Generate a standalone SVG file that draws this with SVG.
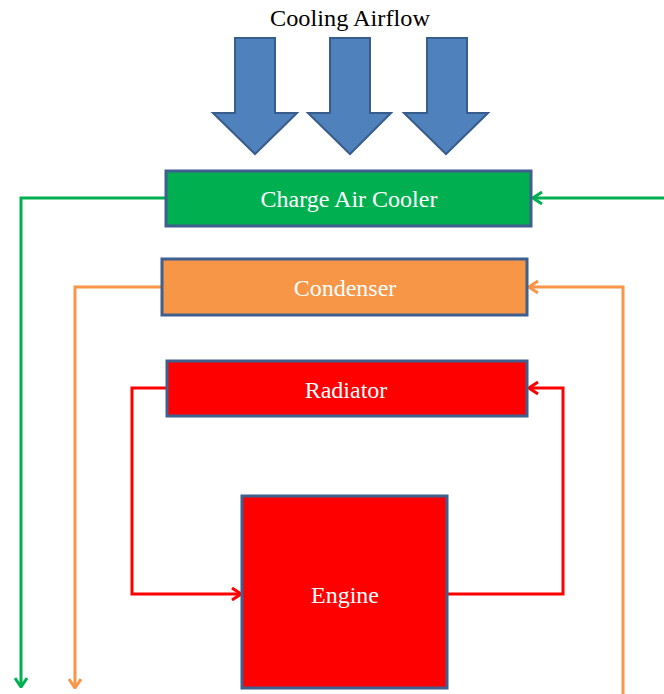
<svg xmlns="http://www.w3.org/2000/svg" width="664" height="694" viewBox="0 0 664 694">
<defs>
<style>
.box{stroke:#3F5F8F;stroke-width:3}
.lbl{fill:#fff;text-anchor:middle}
.title{fill:#000;text-anchor:middle}
.flow{fill:#4F81BD;stroke:#385D8A;stroke-width:2}
.ln{fill:none;stroke-width:3;stroke-linejoin:miter}
</style>
<marker id="ag" viewBox="0 0 14 14" refX="13" refY="7" markerWidth="14" markerHeight="14" markerUnits="userSpaceOnUse" orient="auto"><polyline points="4,1 13,7 4,13" fill="none" stroke="#00B050" stroke-width="3"/></marker>
<marker id="ao" viewBox="0 0 14 14" refX="13" refY="7" markerWidth="14" markerHeight="14" markerUnits="userSpaceOnUse" orient="auto"><polyline points="4,1 13,7 4,13" fill="none" stroke="#F79646" stroke-width="3"/></marker>
<marker id="ar" viewBox="0 0 14 14" refX="13" refY="7" markerWidth="14" markerHeight="14" markerUnits="userSpaceOnUse" orient="auto"><polyline points="4,1 13,7 4,13" fill="none" stroke="#FF0000" stroke-width="3"/></marker>
</defs>
<rect width="664" height="694" fill="#fff"/>
<g font-family="Liberation Serif, DejaVu Serif, serif" font-size="24">
<text class="title" x="350" y="26" textLength="160" lengthAdjust="spacingAndGlyphs">Cooling Airflow</text>
<g id="airflow">
<polygon class="flow" points="235,38 275,38 275,113 297,113 255,154 213,113 235,113"/>
<polygon class="flow" points="330,38 370,38 370,113 391,113 350,154 308,113 330,113"/>
<polygon class="flow" points="427,38 467,38 467,113 488,113 446,154 404,113 427,113"/>
</g>
<g id="connectors">
<polyline class="ln" stroke="#00B050" points="166,198 21,198 21,687" marker-end="url(#ag)"/>
<line class="ln" stroke="#00B050" x1="664" y1="198" x2="533" y2="198" marker-end="url(#ag)"/>
<polyline class="ln" stroke="#F79646" points="162,287 75,287 75,688" marker-end="url(#ao)"/>
<polyline class="ln" stroke="#F79646" points="623,694 623,287 529,287" marker-end="url(#ao)"/>
<polyline class="ln" stroke="#FF0000" points="167,388 132,388 132,594 241,594" marker-end="url(#ar)"/>
<polyline class="ln" stroke="#FF0000" points="447,594 563,594 563,388 529,388" marker-end="url(#ar)"/>
</g>
<g id="charge-air-cooler">
<rect class="box" x="166" y="171" width="365" height="55" fill="#00B050"/>
<text class="lbl" x="349" y="207">Charge Air Cooler</text>
</g>
<g id="condenser">
<rect class="box" x="162" y="259" width="365" height="56" fill="#F79646"/>
<text class="lbl" x="345" y="296">Condenser</text>
</g>
<g id="radiator">
<rect class="box" x="167" y="361" width="360" height="55" fill="#FF0000"/>
<text class="lbl" x="346" y="398">Radiator</text>
</g>
<g id="engine">
<rect class="box" x="242" y="496" width="205" height="192" fill="#FF0000"/>
<text class="lbl" x="345" y="603">Engine</text>
</g>
</g>
</svg>
